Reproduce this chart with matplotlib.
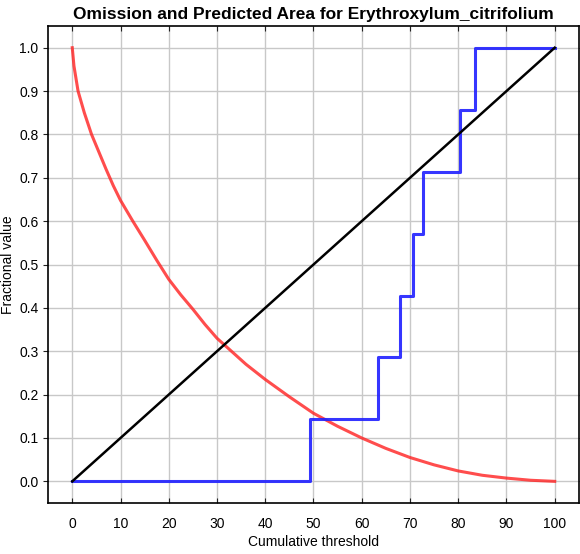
import matplotlib
matplotlib.use("Agg")
import matplotlib.pyplot as plt

plt.rcParams['font.family'] = ['Liberation Sans', 'DejaVu Sans']

# fractional predicted area (red)
area_x = [0, 0.35, 1.2, 2.5, 4, 5.5, 7, 8.5, 10, 12.5, 15, 17.5, 20, 22.5, 25, 27.5, 30, 33, 36, 40,
          45, 50, 55, 60, 65, 70, 75, 80, 85, 90, 95, 100]
area_y = [1.0, 0.958, 0.90, 0.85, 0.80, 0.76, 0.72, 0.682, 0.648, 0.601, 0.556, 0.51, 0.466, 0.43, 0.397,
          0.362, 0.33, 0.30, 0.27, 0.235, 0.195, 0.157, 0.127, 0.10, 0.076, 0.055, 0.038, 0.024, 0.014,
          0.0075, 0.0025, 0.0]

# omission on training samples (blue, step)
omit_x = [0, 49.3, 63.3, 67.9, 70.7, 72.8, 80.4, 83.4, 100]
omit_y = [0.0, 1/7, 2/7, 3/7, 4/7, 5/7, 6/7, 1.0, 1.0]

# predicted omission
pred_x = [0, 100]
pred_y = [0.0, 1.0]

fig = plt.figure(figsize=(5.8, 5.54), dpi=100)
ax = fig.add_axes([0.083, 0.092, 0.915, 0.861])

ax.plot(area_x, area_y, color='#ff2020', lw=2.2, alpha=0.8)
ax.step(omit_x, omit_y, where='post', color='#2020ff', lw=2.2, alpha=0.9)
ax.plot(pred_x, pred_y, color='black', lw=1.8)

ax.set_xlim(-5, 105)
ax.set_ylim(-0.05, 1.05)
ax.set_xticks(range(0, 101, 10))
ax.set_yticks([i / 10 for i in range(11)])
ax.set_yticklabels(['%.1f' % (i / 10) for i in range(11)])
ax.grid(True, color='#c8c8c8', lw=1)
ax.set_axisbelow(True)
ax.tick_params(axis='x', direction='in', top=True, labelsize=10, pad=10, color='#222222')
ax.tick_params(axis='y', direction='out', labelsize=10, color='#222222')
ax.tick_params(axis='y', which='both', right=True)
for s in ax.spines.values():
    s.set_linewidth(1.2)

ax.set_title('Omission and Predicted Area for Erythroxylum_citrifolium', fontsize=12.5, fontweight='bold', pad=5)
ax.set_xlabel('Cumulative threshold', fontsize=10, labelpad=3)
ax.set_ylabel('Fractional value', fontsize=10, labelpad=3)

fig.savefig('out.png', dpi=100)
